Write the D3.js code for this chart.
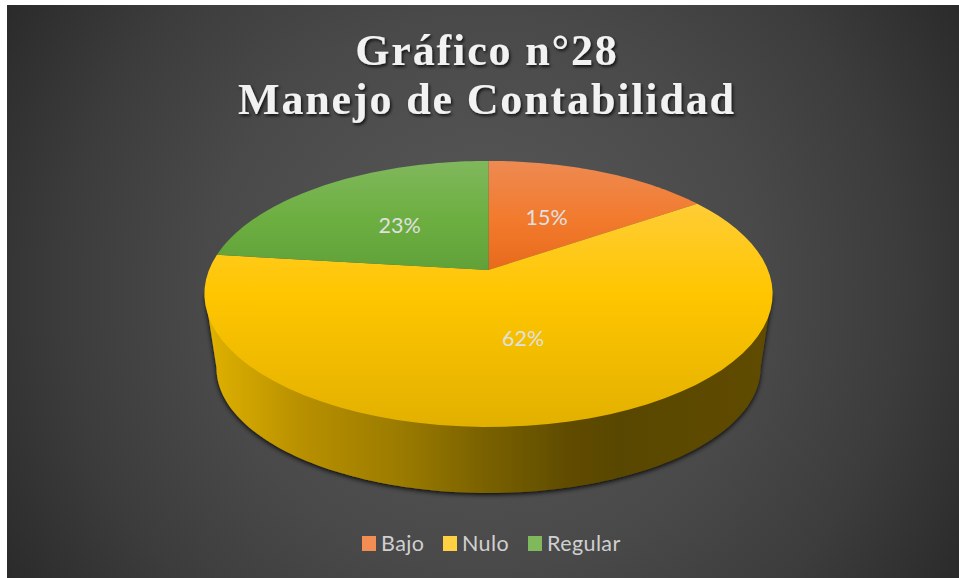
<!DOCTYPE html>
<html>
<head>
<meta charset="utf-8">
<script src="https://d3js.org/d3.v7.min.js"></script>
<style>
    html, body { margin: 0; padding: 0; background: #fff; }
    svg { display: block; }
    .title { font-family: "Liberation Serif", serif; font-weight: bold; font-size: 44px; letter-spacing: 1.85px; fill: #f2f2f2; text-anchor: middle; filter: url(#titleShadow); }
    .label { font-family: Lato, sans-serif; font-size: 21.5px; fill: #e0e0e0; text-anchor: middle; dominant-baseline: central; }
    .legend text { font-family: Lato, sans-serif; font-size: 21.5px; letter-spacing: 0.4px; fill: #d0d0d0; }
</style>
</head>
<body>
<div id="chart"></div>
<script>
(function(d3) {
    'use strict';

    // Counts behind the percentages (13 answers)
    var categories = ['Bajo', 'Nulo', 'Regular'];
    var answers = [2, 8, 3];
    var titleLines = ['Gráfico n°28', 'Manejo de Contabilidad'];

    var width = 959,
        height = 578;

    // The tilted disc: centre of the slices, and how far the rim reaches
    var apex = {x: 488.5, y: 270},
        spread = {x: 279.5, y: 128.7},
        tilt = 0.18;

    var svg = d3.select('#chart').append('svg')
        .attr('width', width)
        .attr('height', height);

    var defs = svg.append('defs');

    function gradient(id, attrs, stops) {
        var g = defs.append('linearGradient')
            .attr('id', id)
            .attr('gradientUnits', 'userSpaceOnUse')
            .attr('x1', attrs.x1).attr('y1', attrs.y1)
            .attr('x2', attrs.x2).attr('y2', attrs.y2);
        stops.forEach(function(s) {
            g.append('stop').attr('offset', s[0]).attr('stop-color', s[1]);
        });
    }

    var bg = defs.append('radialGradient')
        .attr('id', 'bg')
        .attr('gradientUnits', 'userSpaceOnUse')
        .attr('cx', 483).attr('cy', 291).attr('r', 560);
    bg.append('stop').attr('offset', 0).attr('stop-color', '#5a5a5a');
    bg.append('stop').attr('offset', 0.5).attr('stop-color', '#494949');
    bg.append('stop').attr('offset', 0.75).attr('stop-color', '#3c3c3c');
    bg.append('stop').attr('offset', 1).attr('stop-color', '#2a2a2a');

    gradient('topBajo', {x1: 0, y1: 161, x2: 0, y2: 270}, [[0, '#ee8a52'], [0.55, '#f27a2c'], [1, '#e86a1c']]);
    gradient('topNulo', {x1: 0, y1: 161, x2: 0, y2: 427}, [[0, '#ffd050'], [0.5, '#ffc600'], [1, '#e2b000']]);
    gradient('topRegular', {x1: 0, y1: 161, x2: 0, y2: 270}, [[0, '#80b85c'], [0.55, '#6cae40'], [1, '#60a238']]);
    gradient('wall', {x1: 205, y1: 0, x2: 772, y2: 0}, [
        [0, '#e2b400'], [0.02, '#dcae00'], [0.17, '#b89000'], [0.34, '#9c7c00'],
        [0.5, '#786000'], [0.64, '#604c00'], [0.73, '#594600'], [1, '#604c00']
    ]);

    var titleShadow = defs.append('filter').attr('id', 'titleShadow')
        .attr('x', '-5%').attr('y', '-20%').attr('width', '110%').attr('height', '140%');
    titleShadow.append('feDropShadow')
        .attr('dx', 1.5).attr('dy', 2).attr('stdDeviation', 1.5)
        .attr('flood-color', '#000').attr('flood-opacity', 0.75);

    var wallShadow = defs.append('filter').attr('id', 'wallShadow')
        .attr('x', '-5%').attr('y', '-5%').attr('width', '110%').attr('height', '115%');
    wallShadow.append('feDropShadow')
        .attr('dx', 0).attr('dy', 1.5).attr('stdDeviation', 2.5)
        .attr('flood-color', '#000').attr('flood-opacity', 0.95);

    svg.append('rect')
        .attr('x', 7).attr('y', 5)
        .attr('width', width - 7).attr('height', height - 5)
        .attr('fill', 'url(#bg)');

    // Title
    svg.selectAll('.title')
        .data(titleLines)
        .enter().append('text')
        .attr('class', 'title')
        .attr('x', 487)
        .attr('y', function(d, i) { return 65 + i * 49; })
        .text(function(d) { return d; });

    var pie = d3.pie().sort(null);
    var slices = pie(answers);

    // Disc coordinates (-1..1) to the page
    var xScale = d3.scaleLinear().domain([0, 1]).range([apex.x, apex.x + spread.x]),
        yScale = d3.scaleLinear().domain([0, 1]).range([apex.y, apex.y + spread.y]);

    function project(angle, r) {
        var u = Math.sin(angle) * r,
            v = -Math.cos(angle) * r,
            w = 1 - tilt * v;
        return [xScale(u / w), yScale(v / w)];
    }

    var line = d3.line();

    function slicePath(d) {
        var steps = d3.range(0, 61).map(function(i) {
            return project(d.startAngle + (d.endAngle - d.startAngle) * i / 60, 1);
        });
        return line([project(0, 0)].concat(steps)) + 'Z';
    }

    // Side of the pie, from the widest points of the top down to the lower rim
    var rimLeft = [205, 294],
        rimRight = [772, 294],
        lower = {x: 488.5, y: 368, rx: 272, ry: 125};

    var wallPoints = [rimLeft].concat(d3.range(0, 121).map(function(i) {
        var a = Math.PI - Math.PI * i / 120;
        return [lower.x + lower.rx * Math.cos(a), lower.y + lower.ry * Math.sin(a)];
    }), [rimRight]);

    svg.append('path')
        .attr('d', line(wallPoints) + 'Z')
        .attr('fill', 'url(#wall)')
        .attr('filter', 'url(#wallShadow)');

    var topIds = ['topBajo', 'topNulo', 'topRegular'];

    svg.selectAll('.slice')
        .data(slices)
        .enter().append('path')
        .attr('class', 'slice')
        .attr('d', slicePath)
        .attr('fill', function(d, i) { return 'url(#' + topIds[i] + ')'; });

    var total = d3.sum(answers),
        percent = d3.format('.0%');

    svg.selectAll('.label')
        .data(slices)
        .enter().append('text')
        .attr('class', 'label')
        .attr('x', function(d) { return project((d.startAngle + d.endAngle) / 2, 0.5)[0] - 2; })
        .attr('y', function(d) { return project((d.startAngle + d.endAngle) / 2, 0.5)[1]; })
        .text(function(d) { return percent(d.value / total); });

    // Legend
    var legendX = [362, 443, 528];
    var swatchIds = ['swatchBajo', 'swatchNulo', 'swatchRegular'];
    gradient('swatchBajo', {x1: 0, y1: 536, x2: 0, y2: 551}, [[0, '#f28e54'], [1, '#ee6e1e']]);
    gradient('swatchNulo', {x1: 0, y1: 536, x2: 0, y2: 551}, [[0, '#ffd042'], [1, '#fbc200']]);
    gradient('swatchRegular', {x1: 0, y1: 536, x2: 0, y2: 551}, [[0, '#80b85c'], [1, '#60a238']]);

    var legend = svg.append('g').attr('class', 'legend')
        .selectAll('g')
        .data(categories)
        .enter().append('g')
        .attr('transform', function(d, i) { return 'translate(' + legendX[i] + ',536)'; });

    legend.append('rect')
        .attr('width', 14)
        .attr('height', 15)
        .attr('fill', function(d, i) { return 'url(#' + swatchIds[i] + ')'; });

    legend.append('text')
        .attr('x', 19)
        .attr('y', 15)
        .text(function(d) { return d; });
}(d3));
</script>
</body>
</html>
